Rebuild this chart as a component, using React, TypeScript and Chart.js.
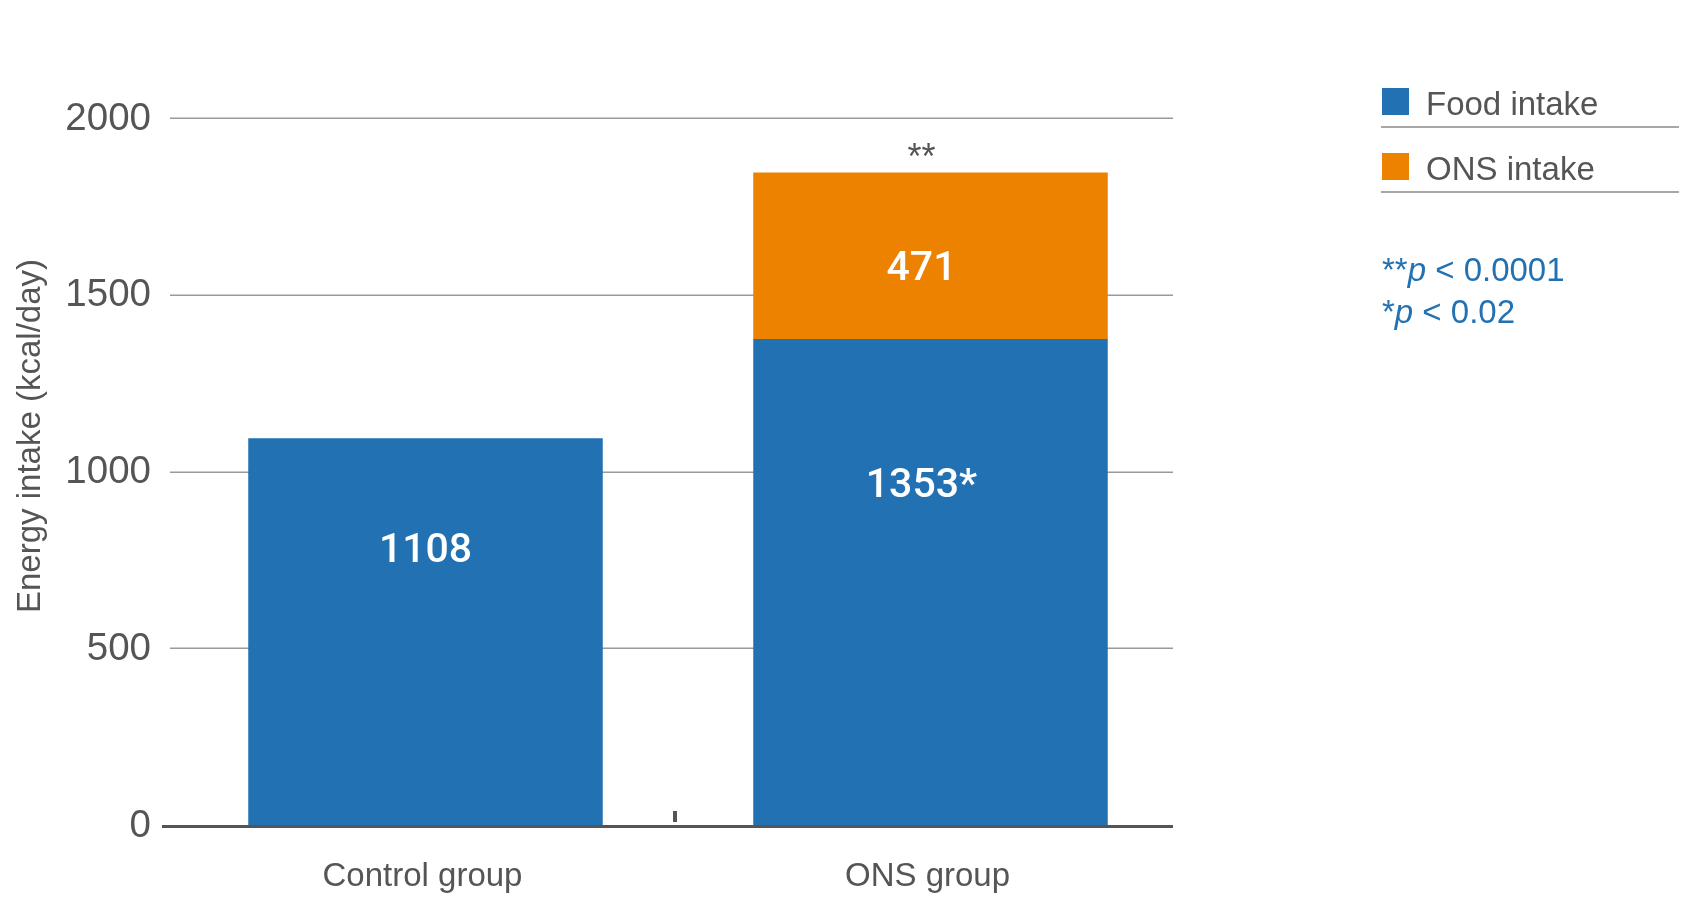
import React, { useEffect, useRef } from "react";
import { Chart, registerables } from "chart.js";

Chart.register(...registerables);

const categories = ["Control group", "ONS group"];
const foodIntake = [1094, 1375];
const onsIntake: (number | null)[] = [null, 471];
const foodLabels = ["1108", "1353*"];
const onsLabels = ["", "471"];
const topMarks = ["", "**"];
const yTicks = [0, 500, 1000, 1500, 2000];
const seriesNames = ["Food intake", "ONS intake"];
const noteLines = [
  ["**", "p", " < 0.0001"],
  ["*", "p", " < 0.02"],
];
const yTitle = "Energy intake (kcal/day)";

const BLUE = "#2271b3";
const ORANGE = "#ed8100";
const GRAY = "#555555";
const FONT = "'Liberation Sans', Arial, Helvetica, sans-serif";
const LABEL_FONT = "500 41px Roboto, 'Liberation Sans', Arial, sans-serif";
const LABEL_DX = [0, -9];
const FOOD_LABEL_FRAC = [0.707, 0.695];
const ONS_LABEL_FRAC = 0.418;
const GRID_LEFT = 170;
const GRID_RIGHT = 1173;

const annotPlugin = {
  id: "annot",
  beforeDatasetsDraw(chart: any) {
    const ctx = chart.ctx;
    const ys = chart.scales.y;
    ctx.save();
    ctx.strokeStyle = "#9a9a9a";
    ctx.lineWidth = 1.5;
    yTicks.forEach((v) => {
      if (v === 0) return;
      const py = Math.round(ys.getPixelForValue(v)) + 0.25;
      ctx.beginPath();
      ctx.moveTo(GRID_LEFT, py);
      ctx.lineTo(GRID_RIGHT, py);
      ctx.stroke();
    });
    ctx.restore();
  },
  afterDatasetsDraw(chart: any) {
    const ctx = chart.ctx;
    const xs = chart.scales.x;
    const ys = chart.scales.y;
    const base = ys.getPixelForValue(0);
    ctx.save();
    ctx.strokeStyle = GRAY;
    ctx.lineWidth = 3;
    ctx.beginPath();
    ctx.moveTo(GRID_LEFT - 8, base + 1.5);
    ctx.lineTo(GRID_RIGHT, base + 1.5);
    ctx.stroke();
    const mid = (xs.getPixelForValue(0) + xs.getPixelForValue(1)) / 2 - 3;
    ctx.fillStyle = GRAY;
    ctx.fillRect(mid - 2, base - 14, 4, 11);
    ctx.fillStyle = "#ffffff";
    ctx.font = LABEL_FONT;
    ctx.textAlign = "center";
    ctx.textBaseline = "middle";
    foodIntake.forEach((v, i) => {
      const px = xs.getPixelForValue(i) + LABEL_DX[i];
      ctx.fillText(foodLabels[i], px, ys.getPixelForValue(v * FOOD_LABEL_FRAC[i]));
    });
    onsIntake.forEach((v, i) => {
      if (v == null || !onsLabels[i]) return;
      const lo = foodIntake[i];
      ctx.fillText(onsLabels[i], xs.getPixelForValue(i) + LABEL_DX[i], ys.getPixelForValue(lo + v * ONS_LABEL_FRAC));
    });
    ctx.fillStyle = GRAY;
    ctx.font = `36px ${FONT}`;
    ctx.textBaseline = "alphabetic";
    topMarks.forEach((m, i) => {
      if (!m) return;
      const total = foodIntake[i] + (onsIntake[i] ?? 0);
      ctx.fillText(m, xs.getPixelForValue(i) + LABEL_DX[i], ys.getPixelForValue(total) - 3);
    });
    ctx.restore();
  },
  afterDraw(chart: any) {
    const ctx = chart.ctx;
    ctx.save();
    ctx.translate(31, 436);
    ctx.rotate(-Math.PI / 2);
    ctx.fillStyle = GRAY;
    ctx.font = `33px ${FONT}`;
    ctx.textAlign = "center";
    ctx.textBaseline = "middle";
    ctx.fillText(yTitle, 0, 0);
    ctx.restore();

    ctx.save();
    const colors = [BLUE, ORANGE];
    const legX = 1382;
    const rowTop = [88, 153];
    seriesNames.forEach((name, i) => {
      ctx.fillStyle = colors[i];
      ctx.fillRect(legX, rowTop[i], 27, 27);
      ctx.fillStyle = GRAY;
      ctx.font = `33px ${FONT}`;
      ctx.textAlign = "left";
      ctx.textBaseline = "alphabetic";
      ctx.fillText(name, legX + 44, rowTop[i] + 27);
      ctx.strokeStyle = "#8a8a8a";
      ctx.lineWidth = 1.5;
      ctx.beginPath();
      ctx.moveTo(legX - 1, rowTop[i] + 39);
      ctx.lineTo(1679, rowTop[i] + 39);
      ctx.stroke();
    });
    const noteBase = [281, 323];
    noteLines.forEach((parts, i) => {
      let x = legX;
      parts.forEach((p, j) => {
        ctx.font = j === 1 ? `italic 33px ${FONT}` : `33px ${FONT}`;
        ctx.fillStyle = BLUE;
        ctx.fillText(p, x, noteBase[i]);
        x += ctx.measureText(p).width;
      });
    });
    ctx.restore();
  },
};

export default function App() {
  const ref = useRef<HTMLCanvasElement>(null);
  useEffect(() => {
    if (!ref.current) return;
    const chart = new Chart(ref.current, {
      type: "bar",
      data: {
        labels: categories,
        datasets: [
          { label: seriesNames[0], data: foodIntake, backgroundColor: BLUE, borderWidth: 0 },
          { label: seriesNames[1], data: onsIntake, backgroundColor: ORANGE, borderWidth: 0 },
        ],
      },
      options: {
        animation: false,
        responsive: false,
        devicePixelRatio: 1,
        layout: { padding: { top: 118, right: 509, left: 0, bottom: 0 } },
        datasets: { bar: { categoryPercentage: 1, barPercentage: 0.702 } },
        plugins: { legend: { display: false }, tooltip: { enabled: false } },
        scales: {
          x: {
            stacked: true,
            grid: { display: false },
            border: { display: false },
            ticks: { color: GRAY, font: { family: FONT, size: 33 }, padding: 24, labelOffset: -3 },
            afterFit: (s: any) => {
              s.height = 89;
            },
          },
          y: {
            stacked: true,
            min: 0,
            max: 2000,
            afterBuildTicks: (s: any) => {
              s.ticks = yTicks.map((v) => ({ value: v }));
            },
            grid: { display: false, drawTicks: false },
            border: { display: false },
            ticks: {
              color: GRAY,
              font: { family: FONT, size: 38.5 },
              padding: 22,
              labelOffset: 1,
              callback: (v: any) => String(v),
            },
            title: { display: false },
            afterFit: (s: any) => {
              s.width = 173;
            },
          },
        },
      },
      plugins: [annotPlugin],
    });
    return () => chart.destroy();
  }, []);
  return (
    <div style={{ position: "fixed", left: 0, top: 0, width: 1692, height: 914, background: "#fff" }}>
      <canvas ref={ref} width={1692} height={914} style={{ width: 1692, height: 914 }} />
    </div>
  );
}
